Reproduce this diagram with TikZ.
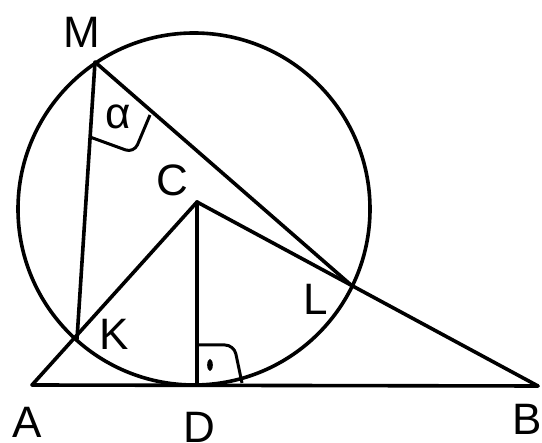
\documentclass[tikz,border=0pt]{standalone}
\usepackage{fontspec}
\setmainfont{Liberation Sans}
\begin{document}
\begin{tikzpicture}[x=1pt, y=-1pt,
    seg/.style={line width=3.6pt, line cap=round, line join=round},
    anglemark/.style={line width=3pt, rounded corners=9pt},
    lbl/.style={font=\fontsize{44}{48}\selectfont, inner sep=0pt},
]
    \useasboundingbox (0,0) rectangle (542,443);
    % points
    \coordinate (A) at (32,385);
    \coordinate (B) at (538,386);
    \coordinate (C) at (197,202);
    \coordinate (D) at (197,385);
    \coordinate (M) at (95,62);
    \coordinate (K) at (77,339);
    \coordinate (L) at (351,285);
    \coordinate (O) at (194,209);

    % circle and segments
    \draw[seg] (O) circle (176);
    \draw[seg] (A) -- (B);
    \draw[seg] (A) -- (C);
    \draw[seg] (C) -- (D);
    \draw[seg] (C) -- (B);
    \draw[seg] (M) -- (K);
    \draw[seg] (M) -- (L);

    % angle marks
    \draw[anglemark] (90,137) -- (134,153) -- (150,115);
    \draw[anglemark] (197,345) -- (234,345) -- (242,383);
    \fill (210,365) ellipse (2.8 and 6);

    % labels
    \node[lbl] (lM) at (82,32) {M};
    \node[lbl] (lC) at (172,180) {C};
    \node[lbl] (la) at (118,117) {α};
    \node[lbl] (lK) at (114,334) {K};
    \node[lbl] (lL) at (316,299) {L};
    \node[lbl] (lA) at (27,422) {A};
    \node[lbl] (lD) at (199,427) {D};
    \node[lbl] (lB) at (527,419) {B};
\end{tikzpicture}
\end{document}
